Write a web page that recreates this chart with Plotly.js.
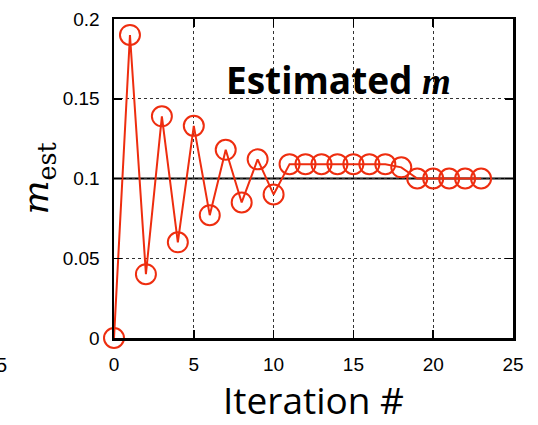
<!DOCTYPE html>
<html>
<head>
<meta charset="utf-8">
<script src="https://cdn.plot.ly/plotly-3.0.1.min.js"></script>
<style>html,body{margin:0;padding:0;background:#fff;}#chart{width:538px;height:425px;}</style>
</head>
<body>
<div id="chart"></div>
<script>
// Iteration index and estimated m at each iteration
const iterations = [0, 1, 2, 3, 4, 5, 6, 7, 8, 9, 10, 11, 12, 13, 14, 15, 16, 17, 18, 19, 20, 21, 22, 23];
const mEst = [0, 0.190, 0.040, 0.139, 0.060, 0.133, 0.077, 0.118, 0.085, 0.112, 0.090,
              0.109, 0.109, 0.109, 0.109, 0.109, 0.109, 0.109, 0.107, 0.100, 0.100, 0.100, 0.100, 0.100];
const trueM = 0.1;
const xTicks = [0, 5, 10, 15, 20, 25];
const yTicks = [0, 0.05, 0.1, 0.15, 0.2];
const yTickText = ['0', '0.05', '0.1', '0.15', '0.2'];

const red = 'rgb(238,45,15)';

const trace = {
  x: iterations,
  y: mEst,
  type: 'scatter',
  mode: 'lines+markers',
  line: {color: red, width: 2},
  marker: {symbol: 'circle-open', size: 20, color: red, line: {color: red, width: 2}},
  cliponaxis: false,
  hoverinfo: 'x+y'
};

const tickFont = {family: 'Liberation Sans, Arial, sans-serif', size: 19, color: '#000'};

const layout = {
  width: 538,
  height: 425,
  margin: {l: 114, r: 25, t: 19, b: 87},
  paper_bgcolor: '#fff',
  plot_bgcolor: '#fff',
  showlegend: false,
  xaxis: {
    range: [0, 25],
    tickvals: xTicks,
    ticks: 'inside',
    ticklen: 8,
    tickwidth: 1.5,
    tickcolor: '#000',
    mirror: 'ticks',
    showline: true,
    linecolor: '#000',
    linewidth: 2.5,
    showgrid: true,
    gridcolor: '#333',
    gridwidth: 1,
    griddash: 'dot',
    zeroline: false,
    tickfont: tickFont,
    ticklabelstandoff: 8,
    title: {text: 'Iteration #', font: {family: 'Open Sans, Lato, sans-serif', size: 37, color: '#000'}, standoff: 15}
  },
  yaxis: {
    range: [0, 0.2],
    tickvals: yTicks,
    ticktext: yTickText,
    ticks: 'inside',
    ticklen: 8,
    tickwidth: 1.5,
    tickcolor: '#000',
    mirror: 'ticks',
    showline: true,
    linecolor: '#000',
    linewidth: 2.5,
    showgrid: true,
    gridcolor: '#333',
    gridwidth: 1,
    griddash: 'dot',
    zeroline: false,
    tickfont: tickFont,
    ticklabelstandoff: 8,
    title: {text: '<i>m</i><sub>est</sub>', font: {family: 'DejaVu Serif, Liberation Serif, serif', size: 36, color: '#000'}, standoff: 3}
  },
  shapes: [
    {type: 'line', xref: 'paper', x0: 0, x1: 1, yref: 'y', y0: trueM, y1: trueM,
     line: {color: '#000', width: 2}, layer: 'below'}
  ],
  annotations: [
    {xref: 'paper', yref: 'paper', x: 0.563, y: 0.81, xanchor: 'center', yanchor: 'middle', showarrow: false,
     text: '<b>Estimated </b><b><i style="font-family:Liberation Serif, serif">m</i></b>',
     font: {family: 'Open Sans, Lato, sans-serif', size: 37, color: '#000'}},
    {xref: 'paper', yref: 'paper', x: -114/399 + 9/399, y: -27/318, xanchor: 'right', yanchor: 'middle', showarrow: false,
     text: '5', font: {family: 'Liberation Sans, Arial, sans-serif', size: 20, color: '#000'}}
  ]
};

Plotly.newPlot('chart', [trace], layout, {displayModeBar: false, staticPlot: true});
</script>
</body>
</html>
